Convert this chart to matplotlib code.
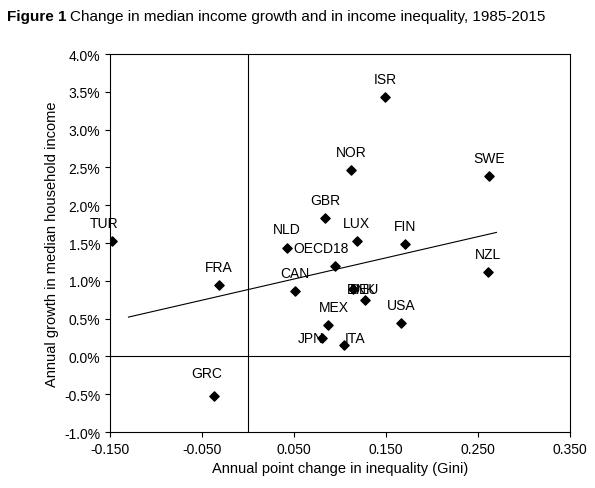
import matplotlib
matplotlib.use("Agg")
import matplotlib.pyplot as plt
import numpy as np

plt.rcParams['font.family'] = ['Liberation Sans', 'DejaVu Sans']

countries = ["TUR","FRA","GRC","CAN","NLD","GBR","NOR","ISR","LUX","OECD18","DNK","DEU","FIN","SWE","NZL","USA","MEX","JPN","ITA"]
gini = [-0.148,-0.032,-0.037,0.051,0.042,0.084,0.112,0.149,0.118,0.095,0.114,0.127,0.171,0.262,0.261,0.166,0.087,0.080,0.104]
growth = [1.52,0.94,-0.52,0.86,1.44,1.83,2.46,3.43,1.53,1.19,0.89,0.75,1.49,2.38,1.11,0.44,0.42,0.24,0.15]
label_off = {"TUR":(-6,13),"FRA":(0,13),"GRC":(-5,16),"CAN":(0,13),"NLD":(0,13),"GBR":(0,13),
             "NOR":(0,13),"ISR":(0,13),"LUX":(0,13),"OECD18":(-10,13),"DNK":(6,0),"DEU":(0,8),
             "FIN":(0,13),"SWE":(0,13),"NZL":(0,13),"USA":(0,13),"MEX":(4,13),"JPN":(-8,0),"ITA":(8,5)}
trend_x = [-0.13, 0.27]
trend_y = [0.52, 1.64]

fig = plt.figure(figsize=(5.95,4.89), dpi=100)
ax = fig.add_axes([0.185,0.1145,0.773,0.773])
ax.scatter(gini, growth, marker="D", s=22, color="black", zorder=3)
for c,x,y in zip(countries,gini,growth):
    dx,dy = label_off[c]
    ax.annotate(c,(x,y),xytext=(dx,dy),textcoords="offset points",ha="center",va="center",fontsize=10)
ax.plot(trend_x, trend_y, color="black", lw=0.8)
ax.axhline(0,color="black",lw=0.8)
ax.axvline(0,color="black",lw=0.8)
ax.set_xlim(-0.15,0.35); ax.set_ylim(-1,4)
ax.set_xticks(np.arange(-0.15,0.351,0.1))
ax.set_xticklabels(["-0.150","-0.050","0.050","0.150","0.250","0.350"])
ax.set_yticks(np.arange(-1,4.01,0.5))
ax.set_yticklabels([f"{v:.1f}%" for v in np.arange(-1,4.01,0.5)])
ax.tick_params(labelsize=10, direction="out")
ax.set_xlabel("Annual point change in inequality (Gini)", fontsize=10.5)
ax.set_ylabel("Annual growth in median household income", fontsize=10.5)
fig.text(0.012,0.965,"Figure 1", fontweight="bold", fontsize=11, va="center")
fig.text(0.118,0.965,"Change in median income growth and in income inequality, 1985-2015", fontsize=11, va="center")
fig.savefig("out.png")
